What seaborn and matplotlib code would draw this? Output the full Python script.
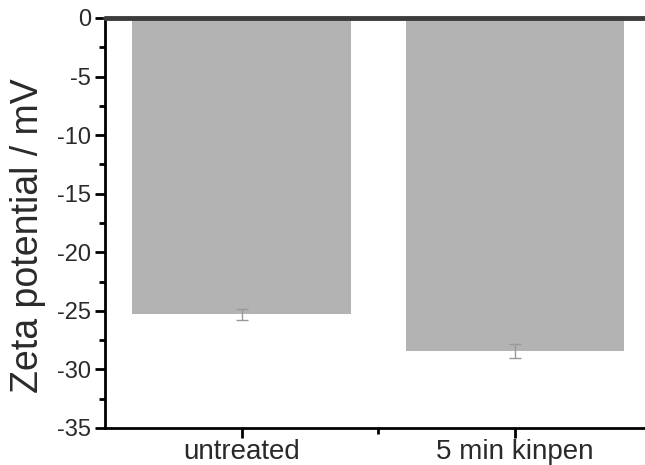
import matplotlib
matplotlib.use("Agg")
import matplotlib.pyplot as plt
import seaborn as sns
import pandas as pd
from matplotlib.ticker import MultipleLocator, FixedLocator

categories = ["untreated", "5 min kinpen"]
values = [-25.3, -28.4]
errors = [0.5, 0.6]
yticks = [0, -5, -10, -15, -20, -25, -30, -35]

sns.set_style("ticks")
plt.rcParams['font.family'] = ['Liberation Sans', 'DejaVu Sans']

df = pd.DataFrame({"cat": categories, "val": values})

fig = plt.figure(figsize=(6.45, 4.65), dpi=100)
ax = fig.add_axes([0.1628, 0.0796, 0.8472, 0.8817])

sns.barplot(data=df, x="cat", y="val", color="#b3b3b3", saturation=1,
            width=0.8, errorbar=None, ax=ax, linewidth=0)
ax.errorbar(range(len(categories)), values, yerr=errors, fmt="none",
            ecolor="#999999", elinewidth=1, capsize=4, capthick=1)

ax.set_xlim(-0.5, 1.5)
ax.set_ylim(-35, 0)
ax.set_yticks(yticks)
ax.set_yticklabels([str(t) for t in yticks])
ax.yaxis.set_minor_locator(MultipleLocator(2.5))
ax.xaxis.set_minor_locator(FixedLocator([0.5]))

ax.axhline(0, color="#3c3c3c", lw=3.5, zorder=5, clip_on=False)

for s in ["top", "right"]:
    ax.spines[s].set_visible(False)
for s in ["left", "bottom"]:
    ax.spines[s].set_linewidth(2)
    ax.spines[s].set_color("black")

ax.tick_params(axis="both", which="major", length=7, width=2,
               colors="black", labelcolor="#2a2a2a")
ax.tick_params(axis="y", labelsize=17, pad=3)
ax.tick_params(axis="both", which="minor", length=4, width=2, colors="black")
ax.tick_params(axis="x", labelsize=20, pad=1)

ax.set_xlabel("")
ax.set_ylabel("Zeta potential / mV", fontsize=27, color="#2a2a2a")
ax.yaxis.set_label_coords(-0.108, 0.47)

fig.savefig("out.png", dpi=100)
